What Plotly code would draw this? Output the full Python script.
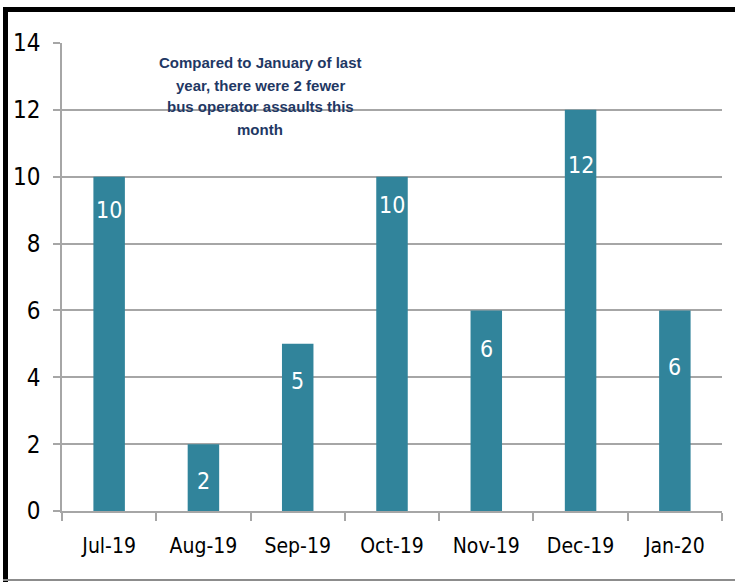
import plotly.graph_objects as go

# ---- data ----
months = ["Jul-19", "Aug-19", "Sep-19", "Oct-19", "Nov-19", "Dec-19", "Jan-20"]
assaults = [10, 2, 5, 10, 6, 12, 6]
label_y = [9.0, 0.9, 3.9, 9.15, 4.85, 10.35, 4.3]   # where the white value labels sit
y_ticks = [0, 2, 4, 6, 8, 10, 12, 14]
note_lines = ["Compared to January of last", "year, there were 2 fewer",
              "bus operator assaults this", "month"]

W, H = 735, 582
ML, MR, MT, MB = 62, 13, 43, 71
PW, PH = W - ML - MR, H - MT - MB

def px(x):
    return (x - ML) / PW

def py(y):
    return (H - MB - y) / PH

NARROW = "Liberation Sans Narrow, DejaVu Sans Condensed, Arial Narrow, sans-serif"
BAR = "#31849B"
GRID = "#A6A6A6"

fig = go.Figure()
fig.add_trace(go.Bar(x=months, y=assaults, marker=dict(color=BAR, line=dict(width=0)),
                     hoverinfo="x+y"))

annotations = []
for m, v, ly in zip(months, assaults, label_y):
    annotations.append(dict(x=m, y=ly, xref="x", yref="y", text=str(v), showarrow=False,
                            xanchor="center", yanchor="middle",
                            font=dict(family=NARROW, size=23, color="white")))
for i, line in enumerate(note_lines):
    annotations.append(dict(x=px(260), y=py(63 + 22 * i), xref="paper", yref="paper",
                            xanchor="center", yanchor="middle",
                            text="<b>%s</b>" % line, showarrow=False,
                            font=dict(family="Liberation Sans, Arial, sans-serif", size=15,
                                      color="#1F3864")))

shapes = [
    # black frame (top & left), gray shadow at the bottom
    dict(type="line", xref="paper", yref="paper", x0=px(3), x1=px(740), y0=py(9.5), y1=py(9.5),
         line=dict(color="black", width=5)),
    dict(type="line", xref="paper", yref="paper", x0=px(5.5), x1=px(5.5), y0=py(7), y1=py(590),
         line=dict(color="black", width=5)),
    dict(type="line", xref="paper", yref="paper", x0=px(3), x1=px(740), y0=py(580), y1=py(580),
         line=dict(color="#8C8C8C", width=2)),
]

fig.update_layout(
    width=W, height=H,
    margin=dict(l=ML, r=MR, t=MT, b=MB, pad=0, autoexpand=False),
    paper_bgcolor="white", plot_bgcolor="white",
    showlegend=False,
    bargap=0.666,
    annotations=annotations,
    shapes=shapes,
    xaxis=dict(type="category", showline=True, linecolor=GRID, linewidth=1.5,
               ticks="outside", ticklen=8, tickcolor=GRID, tickwidth=1.5,
               tickson="boundaries", showgrid=False, automargin=False,
               tickfont=dict(family=NARROW, size=21, color="black"),
               ticklabelstandoff=15),
    yaxis=dict(range=[0, 14], tickvals=y_ticks, showline=True, linecolor=GRID, linewidth=1.5,
               ticks="outside", ticklen=7, tickcolor=GRID, tickwidth=1.5,
               showgrid=True, gridcolor=GRID, gridwidth=1.5, zeroline=False, automargin=False,
               tickfont=dict(family=NARROW, size=24, color="black"),
               ticklabelstandoff=8),
)

# remove the browser's default 8px page margin so the figure sits at the window origin
fig.write_html("out.html", config={"displayModeBar": False},
               post_script="document.body.style.margin='0';")
